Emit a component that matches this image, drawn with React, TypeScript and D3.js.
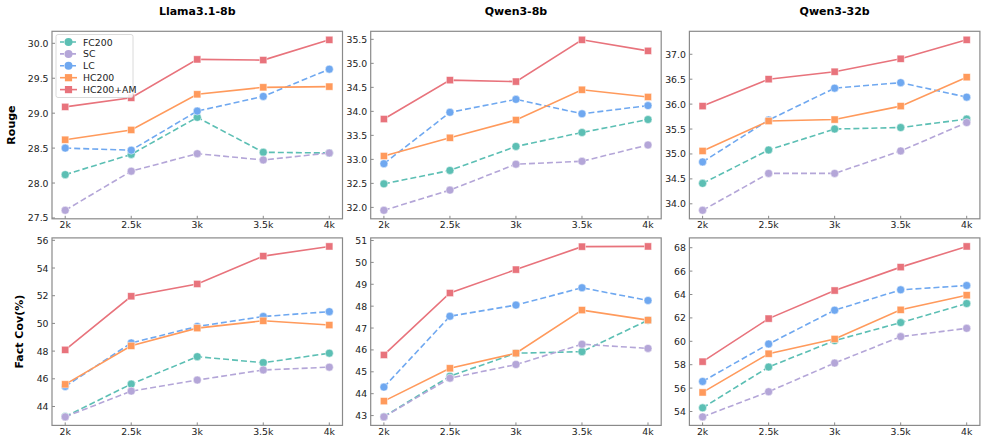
import React, { useEffect, useRef } from "react";
import * as d3 from "d3";

const xLabels = ["2k", "2.5k", "3k", "3.5k", "4k"];
const models = ["Llama3.1-8b", "Qwen3-8b", "Qwen3-32b"];
const metrics = ["Rouge", "Fact Cov(%)"];

const seriesNames = ["FC200", "SC", "LC", "HC200", "HC200+AM"];
const seriesColors = ["#5cbfb4", "#b4a6d8", "#6fa8f0", "#ff9a5c", "#e8737c"];
const seriesDashed = [true, true, true, false, false];
const seriesMarker = ["circle", "circle", "circle", "square", "square"];

// Rouge, one array per series: FC200, SC, LC, HC200, HC200+AM
const rougeLlama = [
  [28.12, 28.41, 28.94, 28.44, 28.43],
  [27.61, 28.17, 28.42, 28.33, 28.43],
  [28.5, 28.47, 29.03, 29.24, 29.63],
  [28.62, 28.76, 29.27, 29.37, 29.38],
  [29.09, 29.22, 29.77, 29.76, 30.05],
];
const rougeQwen8 = [
  [32.49, 32.77, 33.27, 33.56, 33.83],
  [31.94, 32.36, 32.9, 32.96, 33.3],
  [32.91, 33.98, 34.25, 33.95, 34.12],
  [33.07, 33.45, 33.82, 34.45, 34.3],
  [33.84, 34.65, 34.62, 35.49, 35.26],
];
const rougeQwen32 = [
  [34.41, 35.08, 35.5, 35.53, 35.7],
  [33.87, 34.61, 34.61, 35.06, 35.63],
  [34.84, 35.68, 36.32, 36.43, 36.14],
  [35.06, 35.66, 35.69, 35.96, 36.54],
  [35.96, 36.5, 36.65, 36.91, 37.29],
];

// Fact Cov(%)
const factLlama = [
  [43.27, 45.62, 47.6, 47.16, 47.85],
  [43.25, 45.11, 45.91, 46.64, 46.84],
  [45.45, 48.59, 49.78, 50.5, 50.85],
  [45.6, 48.38, 49.66, 50.19, 49.88],
  [48.09, 51.96, 52.85, 54.86, 55.56],
];
const factQwen8 = [
  [42.95, 44.8, 45.85, 45.92, 47.36],
  [42.94, 44.71, 45.33, 46.26, 46.07],
  [44.3, 47.54, 48.05, 48.84, 48.26],
  [43.66, 45.16, 45.85, 47.82, 47.36],
  [45.77, 48.6, 49.67, 50.72, 50.73],
];
const factQwen32 = [
  [54.31, 57.8, 60.06, 61.6, 63.23],
  [53.54, 55.69, 58.14, 60.4, 61.11],
  [56.57, 59.77, 62.66, 64.4, 64.77],
  [55.63, 58.94, 60.2, 62.69, 63.94],
  [58.26, 61.94, 64.34, 66.34, 68.11],
];

const panelData = [
  [rougeLlama, rougeQwen8, rougeQwen32],
  [factLlama, factQwen8, factQwen32],
];
const tickSteps = [
  [0.5, 0.5, 0.5],
  [2, 1, 2],
];
const tickFormats = [".1f", "d"];

export default function App() {
  const ref = useRef<SVGSVGElement>(null);

  useEffect(() => {
    const width = 987;
    const height = 444;
    d3.select(ref.current).selectAll("*").remove();
    const svg = d3
      .select(ref.current)
      .attr("width", width)
      .attr("height", height)
      .style("font-family", "'DejaVu Sans', sans-serif");

    const left0 = 52;
    const colStep = 318.7;
    const pw = 290.5;
    const ph = 187.5;
    const rowTops = [31.3, 237.9];
    const spine = "#8a8a8a";

    models.forEach((m, c) => {
      svg
        .append("text")
        .attr("x", left0 + c * colStep + pw / 2)
        .attr("y", 15)
        .attr("text-anchor", "middle")
        .style("font-size", "11px")
        .style("font-weight", "bold")
        .text(m);
    });

    const yLabelX = [11, 19];
    metrics.forEach((lab, r) => {
      svg
        .append("text")
        .attr("transform", `translate(${yLabelX[r]}, ${rowTops[r] + ph / 2}) rotate(-90)`)
        .attr("text-anchor", "middle")
        .attr("dominant-baseline", "central")
        .style("font-size", "11px")
        .style("font-weight", "bold")
        .text(lab);
    });

    panelData.forEach((row, r) => {
      row.forEach((series, c) => {
        const x0 = left0 + c * colStep;
        const y0 = rowTops[r];
        const g = svg.append("g").attr("transform", `translate(${x0}, ${y0})`);

        const all = series.flat();
        const lo = d3.min(all) ?? 0;
        const hi = d3.max(all) ?? 1;
        const pad = (hi - lo) * 0.05;

        const xScale = d3
          .scalePoint<string>()
          .domain(xLabels)
          .range([pw * (0.2 / 4.4), pw * (4.2 / 4.4)]);
        const yScale = d3
          .scaleLinear()
          .domain([lo - pad, hi + pad])
          .range([ph, 0]);

        const step = tickSteps[r][c];
        const ticks = d3
          .range(Math.ceil((lo - pad) / step), Math.floor((hi + pad) / step) + 1)
          .map((k) => +(k * step).toFixed(3));
        const fmt = d3.format(tickFormats[r]);

        g.append("rect")
          .attr("width", pw)
          .attr("height", ph)
          .attr("fill", "white")
          .attr("stroke", spine)
          .attr("stroke-width", 1.2);

        // y ticks (inward) + labels
        ticks.forEach((t) => {
          const y = yScale(t);
          g.append("line")
            .attr("x1", 0)
            .attr("x2", 3)
            .attr("y1", y)
            .attr("y2", y)
            .attr("stroke", spine);
          g.append("text")
            .attr("x", -3.5)
            .attr("y", y)
            .attr("text-anchor", "end")
            .attr("dominant-baseline", "central")
            .style("font-size", "9.3px")
            .attr("fill", "#222")
            .text(fmt(t));
        });

        xLabels.forEach((lab) => {
          const x = xScale(lab) ?? 0;
          g.append("line")
            .attr("x1", x)
            .attr("x2", x)
            .attr("y1", ph)
            .attr("y2", ph - 3)
            .attr("stroke", spine);
          g.append("text")
            .attr("x", x)
            .attr("y", ph + 9.5)
            .attr("text-anchor", "middle")
            .style("font-size", "9.3px")
            .attr("fill", "#222")
            .text(lab);
        });

        series.forEach((vals, s) => {
          const pts = vals.map((v, i) => [xScale(xLabels[i]) ?? 0, yScale(v)] as [number, number]);
          const line = d3.line();
          g.append("path")
            .attr("d", line(pts))
            .attr("fill", "none")
            .attr("stroke", seriesColors[s])
            .attr("stroke-width", 1.6)
            .attr("stroke-dasharray", seriesDashed[s] ? "6,3" : null);
          pts.forEach(([px, py]) => {
            if (seriesMarker[s] === "circle") {
              g.append("circle")
                .attr("cx", px)
                .attr("cy", py)
                .attr("r", 4)
                .attr("fill", seriesColors[s])
                .attr("stroke", "white")
                .attr("stroke-opacity", 0.6)
                .attr("stroke-width", 0.8);
            } else {
              g.append("rect")
                .attr("x", px - 3.6)
                .attr("y", py - 3.6)
                .attr("width", 7.2)
                .attr("height", 7.2)
                .attr("fill", seriesColors[s])
                .attr("stroke", "white")
                .attr("stroke-opacity", 0.6)
                .attr("stroke-width", 0.8);
            }
          });
        });

        // legend in first panel only
        if (r === 0 && c === 0) {
          const lg = svg.append("g").attr("transform", "translate(56, 34.5)");
          lg.append("rect")
            .attr("width", 77)
            .attr("height", 63)
            .attr("rx", 2)
            .attr("fill", "white")
            .attr("fill-opacity", 0.85)
            .attr("stroke", "#d0d0d0")
            .attr("stroke-width", 0.8);
          seriesNames.forEach((name, s) => {
            const ly = 7.5 + s * 11.9;
            lg.append("line")
              .attr("x1", 4)
              .attr("x2", 21)
              .attr("y1", ly)
              .attr("y2", ly)
              .attr("stroke", seriesColors[s])
              .attr("stroke-width", 1.6)
              .attr("stroke-dasharray", seriesDashed[s] ? "4,2" : null);
            if (seriesMarker[s] === "circle") {
              lg.append("circle")
                .attr("cx", 12.5)
                .attr("cy", ly)
                .attr("r", 4)
                .attr("fill", seriesColors[s]);
            } else {
              lg.append("rect")
                .attr("x", 12.5 - 3.6)
                .attr("y", ly - 3.6)
                .attr("width", 7.2)
                .attr("height", 7.2)
                .attr("fill", seriesColors[s]);
            }
            lg.append("text")
              .attr("x", 27)
              .attr("y", ly)
              .attr("dominant-baseline", "central")
              .style("font-size", "9.3px")
              .attr("fill", "#222")
              .text(name);
          });
        }
      });
    });
  }, []);

  return (
    <div style={{ position: "absolute", left: 0, top: 0 }}>
      <svg ref={ref}></svg>
    </div>
  );
}
